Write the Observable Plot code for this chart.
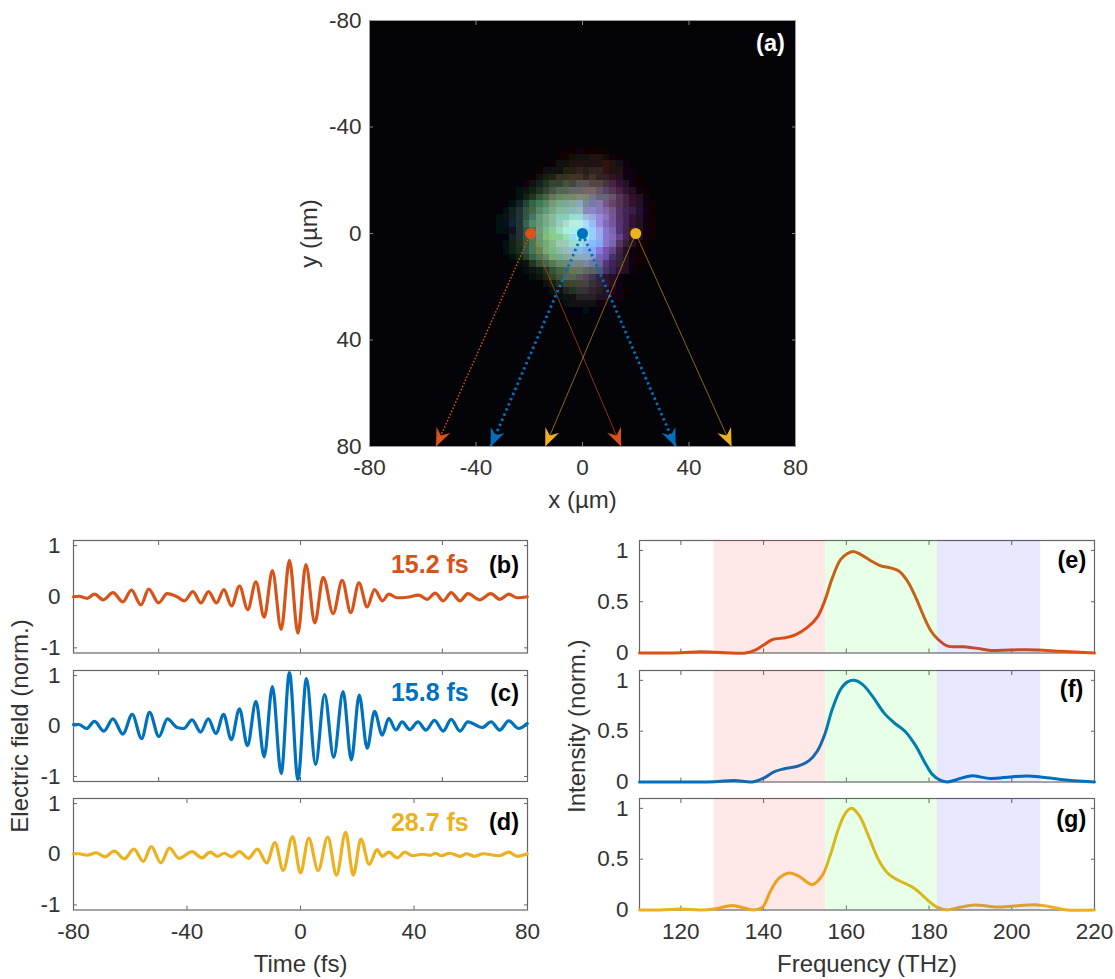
<!DOCTYPE html>
<html><head><meta charset="utf-8">
<script src="https://cdn.jsdelivr.net/npm/d3@7"></script>
<script src="https://cdn.jsdelivr.net/npm/@observablehq/plot@0.6"></script>
<style>
html,body{margin:0;padding:0;background:#fff}
#chart{position:relative;width:1115px;height:979px;overflow:hidden}
#chart svg{position:absolute;max-width:none}
</style></head><body><div id="chart"></div>
<script>
const RED="#D95319",BLUE="#0072BD",YEL="#EDB120";

// ---- time-domain traces (turning points)
const tB=[-80,-78.1,-75.2,-72.6,-69.5,-66.1,-62.6,-59.6,-56.2,-53.5,-50,-47,-43.5,-40.9,-37.9,-35.1,-32.4,-29.6,-27,-24.3,-21.5,-18.6,-15.7,-12.8,-9.9,-6.8,-3.9,-0.9,1.9,5.05,8,11.5,14.7,17.7,20.6,23.5,26.1,28.9,31.1,34.1,37.6,41.7,44.6,47.5,50.3,53.1,56.2,59,63.2,67,70.3,73.4,76.4,79.9];
const vB=[0,.01,-.03,.05,-.06,.08,-.10,.13,-.16,.15,-.12,.06,0,-.08,.10,-.12,.10,-.12,.14,-.18,.21,-.25,.29,-.40,.51,-.64,.71,-.71,.63,-.51,.38,-.33,.32,-.31,.27,-.20,.14,-.08,.05,-.02,-.01,.03,-.05,.07,-.08,.08,-.08,.06,-.06,.06,-.05,.05,-.02,0];
const tC=[-80,-78.1,-75.4,-72.6,-69.3,-66.1,-62.6,-59.3,-56,-53.2,-49.9,-46.9,-43.5,-41.1,-38.2,-35.2,-32.5,-29.8,-27.1,-24.4,-21.5,-18.7,-15.7,-12.8,-9.9,-6.8,-3.9,-0.9,2.1,5.3,8.5,11.7,15,17.9,20.7,23.5,26.1,28.8,31.1,33.6,35.8,38.5,41.4,44.2,47.2,50.3,53.1,56.2,59,64,67.2,70.2,73.4,76.9,79.9];
const vC=[.03,.03,-.05,.09,-.10,.14,-.16,.23,-.25,.27,-.21,.14,-.03,-.05,.12,-.12,.14,-.15,.23,-.27,.34,-.39,.49,-.61,.78,-.94,1.06,-1.06,.94,-.76,.62,-.62,.68,-.67,.61,-.44,.29,-.18,.15,-.08,.08,-.07,.08,-.08,.11,-.10,.13,-.10,.08,-.03,.08,-.08,.10,-.05,.05];
const tD=[-80,-78.1,-75.2,-72,-69,-65.6,-62.1,-58.7,-55.4,-52.6,-49.2,-46.2,-42.8,-38.2,-34.8,-31.8,-29.3,-26.9,-24.3,-21.5,-18.4,-15.2,-11.9,-9,-6.1,-2.8,0,2.9,6.2,9.6,12.7,15.9,18.6,21.3,24.2,27,28.8,31.1,34.1,36.8,39.4,42.9,45.8,47.6,49.6,52.6,56.2,58.5,61.3,64.4,69.9,73.4,76.4,79.9];
const vD=[.01,.01,-.02,.03,-.05,.06,-.09,.10,-.14,.15,-.17,.12,-.08,.05,-.07,.04,-.04,.02,-.05,.05,-.08,.10,-.17,.23,-.32,.35,-.37,.32,-.32,.34,-.41,.43,-.41,.30,-.20,.09,-.04,.04,-.07,.04,-.03,0,-.02,.02,-.03,.02,-.04,.01,-.04,.01,-.03,.04,-.04,.01];

// ---- spectra
const fE=[110,115,120,124.8,130.5,135.7,138.1,140.1,142.1,145.4,147.8,150.6,153,154.8,156.6,158.6,160.3,161.7,163.5,165.9,168.3,170.7,172.7,174.8,176.8,178.8,180.4,182,184.4,188.4,191.7,194.9,199.7,206.2,211.8,220];
const iE=[0,0,.002,.012,.003,0,.03,.08,.13,.15,.18,.25,.35,.51,.73,.91,.97,.99,.96,.90,.85,.83,.80,.70,.54,.35,.22,.14,.07,.06,.045,.025,.03,.03,.016,0];
const fF=[110,115,120,128.1,132.9,137.3,140.1,142.5,145,148.2,151,153,154.8,156.6,158.6,160.3,161.9,163.9,166.3,169.1,171.5,174.3,176.8,178.8,180.8,182.8,184.4,186.8,190,194.9,199.7,203.7,207,211.8,220];
const iF=[0,0,0,.002,.015,0,.04,.10,.13,.155,.21,.305,.47,.715,.91,.985,1,.96,.845,.68,.585,.495,.355,.205,.075,.015,0,.025,.06,.035,.05,.06,.05,.025,0];
const fG=[110,115,120,124.8,128.1,132.5,135.3,137.7,139.7,141.7,143.8,146.2,148.6,151.8,154.2,156.2,158.2,159.9,161.3,163.1,165.5,167.9,170.3,172.7,176.4,179.6,182,184.4,186.8,190.9,196.5,200.5,206.2,210.2,213.4,220];
const iG=[0,0,.01,0,.01,.045,.02,0,.025,.19,.315,.365,.33,.25,.34,.55,.81,.96,1,.93,.715,.485,.35,.29,.215,.10,.025,0,.02,.05,.03,.04,.05,.025,0,0];

// ---- coloured bands in the spectra
const bandFrom=[128,155,182], bandTo=[155,182,207], bandFill=["#ff0000","#00ff00","#0000ff"];

// ---- arrows in panel (a)
const arrowFrom=[-19.5,-19.5,0,0,20,20];
const arrowTo=[-55,14.5,-34.5,35,-14,56];
const arrowColor=[RED,RED,BLUE,BLUE,YEL,YEL];
const arrowWidth=[1.4,.9,2.8,2.8,.9,.9];
const arrowDash=["1.6 1.8","none","2.4 3.2","2.4 3.2","none","none"];
const arrowOpacity=[1,.7,1,1,.65,.65];
const spotX=[-19.5,0,20], spotColor=[RED,BLUE,YEL];

// ---- camera picture: colours, 2.5 um per pixel
// each row: x of its first pixel | colours; rows start at y = imgY0
const imgY0=-31, imgXShift=1.5, imgStep=2.5;
const imageRows=[
"-7.5|100 100 101 100 100 100 100",
"-10|100 100 110 111 111 211 211 110 101 100",
"-12.5|100 111 111 211 211 211 211 211 311 211 111 101",
"-17.5|100 111 111 111 221 221 322 221 322 322 311 211 211 101 101",
"-20|100 111 121 221 332 332 432 432 322 432 322 322 312 212 101 101 100",
"-22.5|101 111 122 232 343 343 453 444 555 555 544 544 434 424 313 212 101 100",
"-25|011 111 121 232 343 454 565 565 666 666 766 766 656 546 535 424 313 212 101 100",
"-25|011 121 232 353 464 675 686 786 786 887 787 778 667 667 656 535 424 312 212 101",
"-27.5|011 122 243 364 475 586 797 7a8 7a9 8a9 8ab 789 77a 87a 758 646 535 424 313 212 101 100",
"-30|011 122 233 354 464 586 697 7a8 8b9 8ba 8bb 9bb 88b 88c 87b 86a 758 536 425 324 213 102 100",
"-32.5|011 111 122 233 354 476 697 7a8 8b9 8cb 8cb 9dc 9dd 9bd 9ad 98d 87b 759 536 425 313 212 101 100",
"-32.5|011 012 123 233 365 586 697 7a8 8b9 9cb adc bed bed adf 9bf 98d 86b 759 537 425 313 212 101 100",
"-32.5|011 011 112 233 354 475 797 7b8 8c9 9db aed aee 9ef 9df 9cf 9ae 87c 76a 537 424 323 212 101 100",
"-32.5|001 001 122 233 354 476 697 8b7 8c8 8c9 9da 9de 9ef 9ef 9cf 9ae 87c 86b 648 425 313 212 101 100",
"-30|011 121 232 353 475 696 7a7 8b8 9ca 9cb 9dc 9dd 9ce 8bf 8ae 87c 76a 536 323 212 101 100",
"-30|011 121 132 354 475 685 7a7 7b8 8ba 9bb 9bc 8bd 8ae 8ae 87d 75a 648 424 212 101 100 100",
"-27.5|011 121 242 364 475 686 7a7 7a8 8a9 8aa 8ab 8ab 89c 76b 65a 436 324 212 101 100 100",
"-25|011 111 232 353 464 575 686 687 788 788 78a 779 669 537 425 323 212 101 100",
"-22.5|011 111 121 232 353 464 565 675 676 666 566 557 436 325 313 212 101",
"-20|011 111 221 342 453 565 565 555 545 435 324 313 212 101",
"-15|111 121 232 343 443 443 444 333 323 313 212 101",
"-12.5|011 111 222 232 333 333 323 222 212 201 101 100",
"-10|011 111 111 222 222 222 212 212 101 101",
"-7.5|011 111 111 111 111 101 101",
"-5|001 001 011 001"
];
const imgCells=imageRows.flatMap((row,j)=>{
  const [x0,cols]=row.split("|");
  return cols.split(" ").map((c,i)=>({
    x1:+x0+imgXShift+i*imgStep-imgStep/2,x2:+x0+imgXShift+i*imgStep+imgStep/2,
    y1:imgY0+j*imgStep-imgStep/2,y2:imgY0+j*imgStep+imgStep/2,fill:"#"+c}));
});

// ---- panel text
const FONT="'Liberation Sans',Arimo,Helvetica,Arial,sans-serif";
const AX="#666", TXT="#333";
const arrowHead={draw(c){c.moveTo(0,0);c.lineTo(7.5,18);c.lineTo(0,12);c.lineTo(-7.5,18);c.closePath();}};

const root=document.getElementById("chart");
const M={l:80,r:30,t:30,b:69};

function ticks(xTicks,yTicks,xLab,yPad,color=AX){
  return [
    Plot.axisX(xTicks,{anchor:"bottom",tickSize:-4,tickPadding:17,stroke:color,tickFormat:xLab?(d=>String(d)):()=>"",fill:TXT,fontSize:22.5,label:null}),
    Plot.axisX(xTicks,{anchor:"top",tickSize:-4,stroke:color,tickFormat:()=>"",label:null}),
    Plot.axisY(yTicks,{anchor:"left",tickSize:-4,tickPadding:yPad,stroke:color,tickFormat:d=>String(d),fill:TXT,fontSize:22.5,label:null}),
    Plot.axisY(yTicks,{anchor:"right",tickSize:-4,stroke:color,tickFormat:()=>"",label:null})
  ];
}
function add(p,cfg){
  const svg=Plot.plot({
    width:cfg.w+M.l+M.r,height:cfg.h+M.t+M.b,
    marginLeft:M.l,marginRight:M.r,marginTop:M.t,marginBottom:M.b,
    style:{background:"transparent",overflow:"visible",fontFamily:FONT},
    x:{domain:cfg.xd},y:{domain:cfg.yd,reverse:!!cfg.rev},
    marks:p});
  svg.style.left=(cfg.l-M.l)+"px"; svg.style.top=(cfg.t-M.t)+"px";
  root.appendChild(svg);
}
const xTitle=(s,dy)=>Plot.text([s],{frameAnchor:"bottom",dy,fontSize:24,fill:TXT,fontFamily:FONT});
const yTitle=(s,dx)=>Plot.text([s],{frameAnchor:"left",textAnchor:"middle",dx,rotate:-90,fontSize:24,fill:TXT,fontFamily:FONT});
const tag=(s,x,y,color,size=23.5)=>Plot.text([s],{x:()=>x,y:()=>y,textAnchor:"end",fontSize:size,fontWeight:"bold",fill:color,fontFamily:FONT});

// (a)
add([
  Plot.frame({fill:"#030308"}),
  Plot.rect(imgCells,{x1:"x1",x2:"x2",y1:"y1",y2:"y2",fill:d=>d.fill,shapeRendering:"crispEdges"}),
  ...arrowTo.map((t,i)=>Plot.link([t],{x1:()=>arrowFrom[i],y1:()=>0,x2:()=>t,y2:()=>80,stroke:arrowColor[i],strokeWidth:arrowWidth[i],strokeDasharray:arrowDash[i]==="none"?null:arrowDash[i],strokeOpacity:arrowOpacity[i]})),
  Plot.dot(arrowTo.map((t,i)=>i),{x:i=>arrowTo[i],y:()=>80,symbol:arrowHead,r:10,fill:i=>arrowColor[i],stroke:"none",
    rotate:i=>Math.atan2(arrowTo[i]-arrowFrom[i],-80)*180/Math.PI}),
  Plot.dot(spotX,{x:d=>d,y:()=>0,r:5.5,fill:(d,i)=>spotColor[i],stroke:"none"}),
  ...ticks([-80,-40,0,40,80],[-80,-40,0,40,80],true,12,"#888"),
  Plot.frame({stroke:"#999"}),
  tag("(a)",76,-71.4,"#fff"),
  xTitle("x (µm)",61),
  yTitle("y (µm)",-60)
],{l:369,t:20,w:426,h:426,xd:[-80,80],yd:[-80,80],rev:true});

// (b)(c)(d)
const leftPanels=[
 {t:tB,v:vB,c:RED,top:539.5,h:112.5,xt:[-50,0,50],lab:"15.2 fs",tagS:"(b)",y:.62},
 {t:tC,v:vC,c:BLUE,top:669.5,h:111,xt:[-50,0,50],lab:"15.8 fs",tagS:"(c)",y:.65},
 {t:tD,v:vD,c:YEL,top:798,h:111.5,xt:[-80,-40,0,40,80],lab:"28.7 fs",tagS:"(d)",y:.62,bottom:true}
];
leftPanels.forEach((d,k)=>{
  add([
    Plot.frame({stroke:AX,strokeWidth:1.2}),
    ...ticks(d.xt,[-1,0,1],d.bottom,17),
    Plot.line(d.t,{x:t=>t,y:(t,i)=>d.v[i],stroke:d.c,strokeWidth:3.2,curve:"monotone-x"}),
    tag(d.lab,59.3,d.y,d.c,25),
    tag(d.tagS,77,d.y,"#000"),
    ...(d.bottom?[xTitle("Time (fs)",62)]:[]),
    ...(k===1?[yTitle("Electric field (norm.)",-53)]:[])
  ],{l:73,t:d.top,w:454,h:d.h,xd:[-80,80],yd:[-1.1,1.1]});
});

// (e)(f)(g)
const rightPanels=[
 {f:fE,v:iE,c:RED,top:539.5,h:112.5,tagS:"(e)",x:218,y:.906},
 {f:fF,v:iF,c:BLUE,top:669.5,h:111.5,tagS:"(f)",x:217.3,y:.91},
 {f:fG,v:iG,c:YEL,top:798,h:111.5,tagS:"(g)",x:218,y:.89,bottom:true}
];
rightPanels.forEach((d,k)=>{
  add([
    Plot.frame({stroke:AX,strokeWidth:1.2}),
    ...ticks([120,140,160,180,200,220],[0,.5,1],d.bottom,15),
    Plot.line(d.f,{x:t=>t,y:(t,i)=>d.v[i],stroke:d.c,strokeWidth:3,curve:"catmull-rom"}),
    Plot.rect(bandFrom,{x1:b=>b,x2:(b,i)=>bandTo[i],y1:()=>0,y2:()=>1.097,fill:(b,i)=>bandFill[i],fillOpacity:.09,stroke:"none"}),
    tag(d.tagS,d.x,d.y,"#000"),
    ...(d.bottom?[xTitle("Frequency (THz)",62)]:[]),
    ...(k===1?[yTitle("Intensity (norm.)",-62)]:[])
  ],{l:638.5,t:d.top,w:455,h:d.h,xd:[110,220],yd:[0,1.097]});
});
</script></body></html>
